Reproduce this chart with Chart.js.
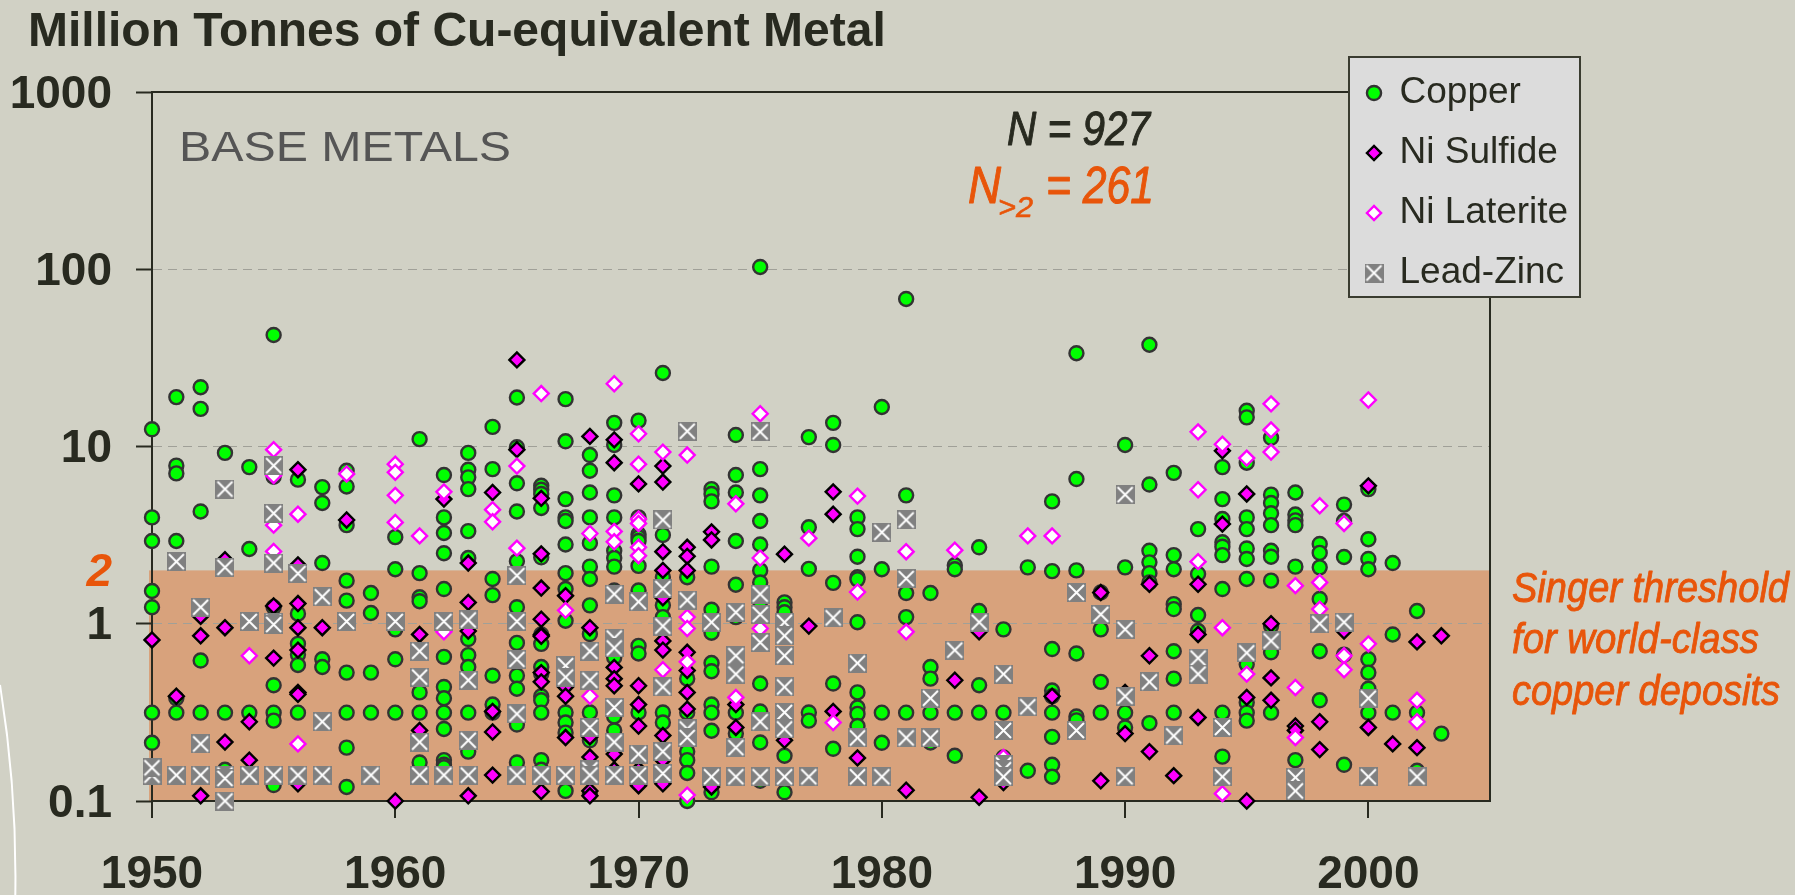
<!DOCTYPE html>
<html><head><meta charset="utf-8">
<style>html,body{margin:0;padding:0;background:#d1d1c5;overflow:hidden}canvas{display:block}</style>
<script src="https://cdn.jsdelivr.net/npm/chart.js@4/dist/chart.umd.min.js"></script>
</head><body><canvas id="c" width="1795" height="895" style="width:1795px;height:895px"></canvas>
<script>
const titleText = 'Million Tonnes of Cu-equivalent Metal';
const yTicks = [0.1, 1, 2, 10, 100, 1000];
const threshold = 2;
const seriesNames = ['Copper', 'Ni Sulfide', 'Ni Laterite', 'Lead-Zinc'];
// each row: year, then the deposit sizes read for that year
const copperRows = [
[1950,12.5,3.98,2.93,1.53,1.24,.315,.213],[1951,19,7.8,7.05,2.93,.38,.315],[1952,21.6,16.3,4.3,.62,.315],
[1953,9.2,.315,.15],[1954,7.65,2.64,.315],[1955,42.6,6.75,1.24,.45,.315,.284,.123],
[1956,6.5,1.14,.77,.67,.585,.315],[1957,5.9,4.8,2.2,.63,.57],[1958,7.3,5.95,3.6,1.75,1.35,.53,.315,.2,.12],
[1959,1.49,1.15,.53,.315],[1960,3.08,2.03,.93,.63,.315],[1961,11,1.93,1.41,1.34,.41,.315,.165],
[1962,6.9,3.98,3.25,2.5,1.57,.65,.44,.38,.315,.255,.17,.16,.155],
[1963,9.2,7.4,6.7,5.75,3.33,2.35,.82,.665,.57,.315,.19],[1964,12.9,7.45,1.79,1.45,.51,.35,.315],
[1965,18.9,9.9,6.2,4.3,2.25,1.24,.78,.51,.43,.27,.165],
[1966,6,5.7,5.4,4.5,2.37,.87,.77,.57,.52,.39,.37,.315,.17,.15],
[1967,18.5,10.7,5.05,3.98,3.8,2.8,1.93,1.57,1.04,.316,.277,.243,.114],
[1968,8.95,7.3,5.5,3.98,2.85,2.1,1.79,1.27,.875,.316,.22,.11],
[1969,13.6,10.2,5.3,3.98,2.58,2.35,2.1,1.54,.645,.337,.3,.25],
[1970,14,3.98,3.2,3.07,2.93,2.12,1.54,.75,.68,.316,.142],
[1971,26,3.17,1.83,1.27,1.09,.316,.277],[1972,1.83,.49,.316,.19,.17,.144,.1],
[1973,5.75,5.4,4.9,2.1,1.2,.89,.6,.54,.35,.315,.249,.112],[1974,11.6,6.9,5.5,2.93,1.66,1.09,.315,.24],
[1975,103,7.45,5.3,3.8,2.8,2,1.71,1.24,.46,.32,.214,.13],[1976,1.32,1.24,1.16,.67,.315,.18,.112],
[1977,11.3,3.5,2.04,.316,.284],[1978,13.6,10.2,1.7,.46,.197],
[1979,3.98,3.42,2.39,1.83,1.78,1.02,.59,.41,.337,.31,.265],
[1980,16.7,2.03,.315,.213],[1981,68,5.3,1.49,1.09,.315],[1982,1.49,.57,.49,.315,.214],
[1983,2.14,2.03,.315,.18],[1984,2.7,1.18,.45,.315],[1985,.93,.315,.176],[1986,2.08,.148],
[1987,4.9,1.98,.72,.42,.39,.315,.23,.16,.137],[1988,33.6,6.55,2,.68,.3,.285],[1989,1.5,.93,.47,.315],
[1990,10.2,2.08,.315,.26],[1991,37.5,6.1,2.58,2.22,1.93,1.71,.275],
[1992,7.1,2.44,2.03,1.29,1.21,.7,.49,.315],[1993,3.42,1.91,1.12,.91],
[1994,7.65,5.05,3.9,2.88,2.72,2.44,1.57,.315,.178],
[1995,15.9,14.6,8.1,3.98,3.42,2.66,2.32,1.79,.59,.36,.315,.284],
[1996,11.2,5.35,4.8,4.2,3.6,2.58,2.39,1.75,.97,.69,.315],
[1997,5.5,4.13,3.83,3.6,2.1,.17],[1998,2.82,2.51,2.08,1.38,.7,.37],[1999,4.7,3.8,2.38,.67,.16],
[2000,5.75,3,2.32,2.03,.63,.53,.43,.315],[2001,2.2,.87,.315],[2002,1.18,.315,.148],[2003,.24]
];
const sulfideRows = [
[1950,.81],[1951,.39],[1952,1.1,.855,.107],[1953,2.3,.95,.215],[1954,.28,.17],[1955,1.26,.64],
[1956,7.4,1.3,.95,.71,.41,.4,.125,2.15],[1957,.95],[1958,3.85],[1960,.1],[1961,.87,.25],[1962,5.05],
[1963,2.2,1.32,.91,.107],[1964,5.5,.32,.245,.14],[1965,30.8,9.6],
[1966,5.1,2.48,1.59,1.06,.865,.85,.53,.47,.113],[1967,1.44,.44,.39,.228],
[1968,11.4,.95,.23,.177,.114,.107],[1969,10.9,8.1,.567,.49,.447,.184,.15],
[1970,6.15,.447,.35,.265,.15,.122],[1971,7.75,6.3,2.55,2,1.4,.8,.71,.234,.17,.125],
[1972,2.7,2.4,2,.69,.545,.41,.33],[1973,3.3,2.97,.12],[1974,.35,.26],[1976,2.47,.22],[1977,.97],
[1978,5.55,4.15,.32],[1979,.175],[1981,.115],[1983,.48],[1984,.9,.105],[1985,.127],[1987,.39],
[1989,1.5,.13],[1990,.24,.41],[1991,1.67,.66,.19],[1992,.139],[1993,1.67,.87,.296],[1994,9.45,3.65],
[1995,5.4,.384,.1],[1996,1,.495,.37],[1997,.265,.25],[1998,.28,.195],[1999,.91],[2000,6,.26],
[2001,.21],[2002,.79,.2],[2003,.855]
];
const lateriteRows = [
[1954,.66],[1955,9.6,6.85,3.6,2.56],[1956,4.15,.21],[1958,7],[1960,7.95,7.15,5.3,3.73],[1961,3.13],
[1962,5.55,.9],[1964,4.4,3.76],[1965,7.75,2.67],[1966,19.9],[1967,1.19],[1968,3.23,.39],
[1969,22.6,3.32,2.9],[1970,11.8,7.95,3.9,3.68,2.7,2.42],[1971,9.3,.55],[1972,8.95,1.09,.94,.61,.108],
[1974,4.75,.384],[1975,15.3,2.35,.94],[1977,3.04],[1978,.277],[1979,5.25,1.51],[1981,2.55,.9],
[1983,2.6],[1985,.176],[1986,3.13],[1987,3.13],[1993,12.1,5.7,2.24],[1994,10.3,.95,.11],[1995,8.6,.52],
[1996,17.4,12.4,9.3],[1997,1.64,.437,.228],[1998,4.63,1.71,1.21],[1999,3.68,.66,.55],[2000,18.3,.77],
[2002,.37,.28]
];
const leadZincRows = [
[1950,.14,.154],[1951,2.24,.14],[1952,1.24,.21,.14],[1953,5.75,2.08,.14,.134,.1],[1954,1.03,.14],
[1955,7.8,4.2,2.2,1.02,.99,.14],[1956,1.92,.14],[1957,1.42,.28,.14],[1958,1.03],[1959,.14],[1960,1.03],
[1961,.7,.5,.215,.14],[1962,1.03,.14],[1963,1.05,.48,.22,.14],[1965,1.87,1.03,.63,.31,.14],[1966,.14],
[1967,.58,.5,.14],[1968,.7,.48,.26,.15,.14],[1969,1.47,.83,.73,.337,.215,.14],[1970,1.33,.184,.14],
[1971,3.85,1.58,.97,.44,.19,.143],[1972,12.2,1.36,.255,.228],[1973,1.02,.137],
[1974,1.16,.66,.52,.2,.137],[1975,12.1,1.47,1.13,.785,.28,.137],
[1976,1.02,.855,.66,.44,.316,.255,.137],[1977,.137],[1978,1.08],[1979,.6,.227,.137],[1980,3.28,.137],
[1981,3.85,1.8,.227],[1982,.38,.227],[1983,.71],[1984,1.02],[1985,.52,.25,.16,.15,.137],[1986,.34],
[1988,1.5,.25],[1989,1.13],[1990,5.35,.93,.39,.137],[1991,.47],[1992,.233],[1993,.64,.52],
[1994,.26,.137],[1995,.685],[1996,.8],[1997,.136,.114],[1998,1],[1999,1.02],[2000,.38,.137],[2002,.137]
];

const toPoints = rows => rows.flatMap(r => r.slice(1).map(v => ({x: r[0], y: v})));
const INK = '#282a20', ORANGE = '#e8550a';
const SANS = '"Liberation Sans", Arial, sans-serif';

const lzMarker = document.createElement('canvas');
lzMarker.width = 19; lzMarker.height = 19;
(function () {
  const g = lzMarker.getContext('2d');
  g.fillStyle = '#808080'; g.fillRect(0, 0, 19, 19);
  g.strokeStyle = '#fff'; g.lineWidth = 2;
  g.beginPath(); g.moveTo(2, 2); g.lineTo(17, 17); g.moveTo(17, 2); g.lineTo(2, 17); g.stroke();
})();

// real text, squeezed or stretched horizontally to the width it has in the reference
function fitText(c, str, x, base, font, color, width, heft) {
  c.save();
  c.font = font; c.fillStyle = color; c.strokeStyle = color; c.lineJoin = 'round';
  c.textAlign = 'left'; c.textBaseline = 'alphabetic';
  const w = c.measureText(str).width;
  c.translate(x, base); c.scale(width / w, 1);
  c.fillText(str, 0, 0);
  if (heft) { c.lineWidth = heft; c.strokeText(str, 0, 0); }
  c.restore();
}

const dress = {
  id: 'dress',
  beforeDraw(chart) {
    const {ctx, chartArea: a, scales: {y}} = chart;
    ctx.save();
    ctx.strokeStyle = '#fff'; ctx.lineWidth = 2;
    ctx.beginPath(); ctx.moveTo(0, 685); ctx.quadraticCurveTo(17, 790, 15.3, 895); ctx.stroke();
    ctx.fillStyle = '#d8a27c';
    const top = y.getPixelForValue(threshold);
    ctx.fillRect(a.left - 3, top, a.right - a.left + 3, a.bottom - top);
    ctx.restore();
  },
  afterLayout(chart) {
    const L = chart.legend, T = chart.titleBlock;
    T.left = 28; T.right = 1400; T.top = 4; T.bottom = 62;
    L.left = 1344; L.right = 1580; L.top = 51.5; L.bottom = 420;
    if (!L._boxed) {
      L._boxed = true;
      const draw = L.draw;
      L.draw = function () {
        const c = chart.ctx;
        c.save();
        c.fillStyle = '#dcdcdc'; c.strokeStyle = '#3a3c30'; c.lineWidth = 2;
        c.fillRect(1349, 57, 231, 240); c.strokeRect(1349, 57, 231, 240);
        c.restore();
        draw.call(this);
      };
    }
  },
  beforeDatasetsDraw(chart) {
    const {ctx: c, chartArea: a} = chart;
    c.save();
    c.strokeStyle = INK; c.lineWidth = 2;
    c.beginPath();
    c.moveTo(a.left, a.top); c.lineTo(1348, a.top);
    c.moveTo(a.right, 298); c.lineTo(a.right, a.bottom);
    c.stroke();
    c.restore();

    fitText(c, 'BASE METALS', 179, 161, '43px ' + SANS, '#555555', 332);
    fitText(c, 'N = 927', 1007, 145, 'italic 48px ' + SANS, INK, 143, 1);
    fitText(c, 'N', 968, 203, 'italic 52px ' + SANS, ORANGE, 33, 1);
    fitText(c, '>2', 998, 217, 'italic 30px ' + SANS, ORANGE, 35, .6);
    fitText(c, '= 261', 1046, 203, 'italic 52px ' + SANS, ORANGE, 108, 1);
    fitText(c, 'Singer threshold', 1512, 602, 'italic 42px ' + SANS, ORANGE, 277, .9);
    fitText(c, 'for world-class', 1512, 653, 'italic 42px ' + SANS, ORANGE, 247, .9);
    fitText(c, 'copper deposits', 1512, 705, 'italic 42px ' + SANS, ORANGE, 268, .9);
  }
};

const axisFont = {family: SANS, size: 46, weight: 'bold'};
new Chart(document.getElementById('c'), {
  type: 'scatter',
  plugins: [dress],
  data: {
    datasets: [
      {label: seriesNames[0], data: toPoints(copperRows), order: 3, clip: false, pointStyle: 'circle', pointRadius: 7,
       pointBackgroundColor: '#00ff00', pointBorderColor: '#333333', pointBorderWidth: 2.4},
      {label: seriesNames[1], data: toPoints(sulfideRows), order: 2, clip: false, pointStyle: 'rectRot', pointRadius: 7.5,
       pointBackgroundColor: '#ff00ff', pointBorderColor: '#000000', pointBorderWidth: 2.4},
      {label: seriesNames[2], data: toPoints(lateriteRows), order: 1, clip: false, pointStyle: 'rectRot', pointRadius: 7.5,
       pointBackgroundColor: '#ffffff', pointBorderColor: '#ff00ff', pointBorderWidth: 2.4},
      {label: seriesNames[3], data: toPoints(leadZincRows), order: 0, clip: false, pointStyle: lzMarker, pointRadius: 9}
    ]
  },
  options: {
    responsive: false,
    animation: false,
    events: [],
    layout: {padding: {top: 34.4, right: 305, left: 0, bottom: 0}},
    plugins: {
      tooltip: {enabled: false},
      title: {display: true, text: titleText, align: 'start', color: INK, padding: 0,
              font: {family: SANS, size: 48, weight: 'bold'}},
      legend: {
        position: 'chartArea', align: 'start',
        labels: {
          usePointStyle: true, boxWidth: 14, boxHeight: 10, padding: 23, color: INK,
          font: {family: SANS, size: 37},
          sort: (a, b) => a.datasetIndex - b.datasetIndex
        }
      }
    },
    scales: {
      x: {
        type: 'linear', min: 1950, max: 2005,
        afterFit(s) { s.height = 94; },
        border: {color: INK, width: 2},
        grid: {drawOnChartArea: false, color: INK, tickColor: INK, tickLength: 17, lineWidth: 2},
        ticks: {stepSize: 10, includeBounds: false, autoSkip: false, maxRotation: 0, padding: 30, color: INK, font: axisFont,
                callback: v => String(v)}
      },
      y: {
        type: 'logarithmic', min: 0.1, max: 1000,
        afterFit(s) { s.width = 152; },
        afterBuildTicks(s) { s.ticks = yTicks.map(v => ({value: v, major: true})); },
        border: {color: INK, width: 2, dash: [9, 6]},
        grid: {
          color: c => (c.tick && [1, 10, 100].includes(c.tick.value)) ? '#a0a098' : 'rgba(0,0,0,0)',
          tickColor: c => (c.tick && c.tick.value === threshold) ? 'rgba(0,0,0,0)' : INK,
          tickBorderDash: [], tickLength: 16, lineWidth: 1, tickWidth: 2
        },
        ticks: {
          autoSkip: false, padding: 24, labelOffset: 3,
          color: c => c.tick.value === threshold ? ORANGE : INK,
          font: c => (c.tick && c.tick.value === threshold)
            ? {family: SANS, size: 46, weight: 'bold', style: 'italic'} : axisFont,
          callback: v => String(v)
        }
      }
    }
  }
});
</script></body></html>
